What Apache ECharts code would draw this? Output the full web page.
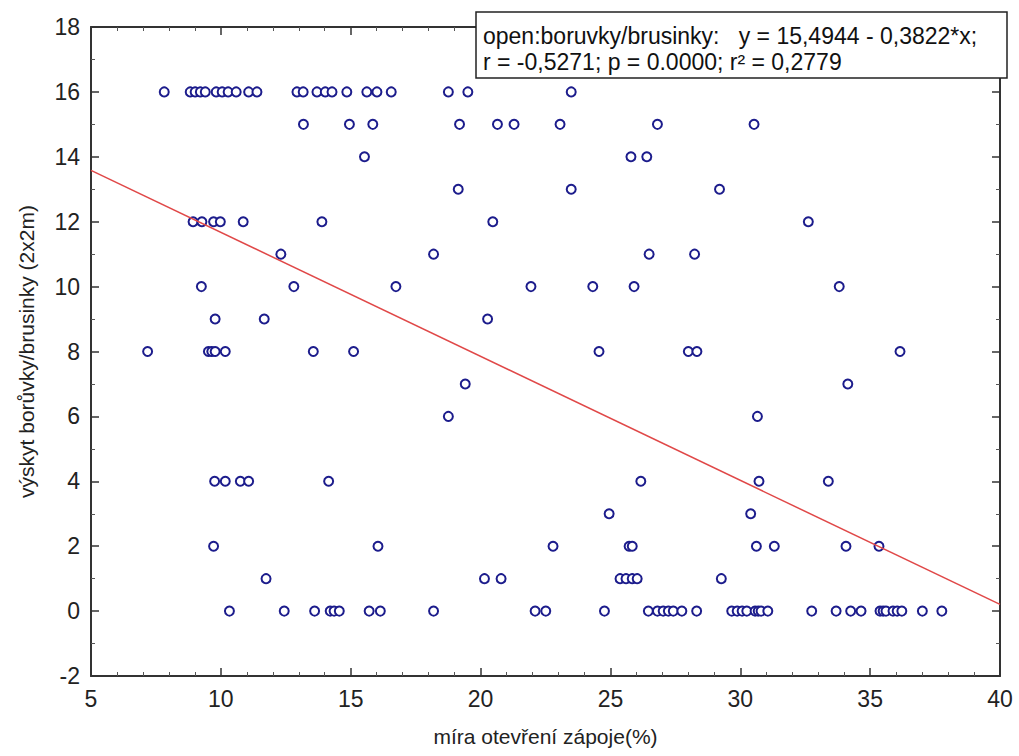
<!DOCTYPE html>
<html>
<head>
<meta charset="utf-8">
<script src="https://cdn.jsdelivr.net/npm/echarts@6/dist/echarts.min.js"></script>
<style>
  html, body { margin: 0; padding: 0; background: #fff; }
  #chart { width: 1019px; height: 756px; }
</style>
</head>
<body>
<div id="chart"></div>
<script>
// observed points [openness %, occurrence]
var points = [
  [7.82,16],[8.82,16],[9.01,16],[9.21,16],[9.40,16],[9.82,16],[10.05,16],[10.28,16],[10.59,16],
  [11.07,16],[11.39,16],[12.93,16],[13.17,16],[13.70,16],[14.02,16],[14.28,16],[14.85,16],
  [15.62,16],[16.01,16],[16.56,16],[18.76,16],[19.51,16],[23.49,16],
  [13.18,15],[14.95,15],[15.85,15],[19.19,15],[20.65,15],[21.29,15],[23.06,15],[26.81,15],[30.53,15],
  [15.53,14],[25.79,14],[26.40,14],
  [19.14,13],[23.49,13],[29.20,13],
  [8.93,12],[9.27,12],[9.72,12],[9.98,12],[10.86,12],[13.89,12],[20.47,12],[32.62,12],
  [12.31,11],[18.19,11],[26.49,11],[28.24,11],
  [9.25,10],[12.81,10],[16.74,10],[21.94,10],[24.32,10],[25.91,10],[33.81,10],
  [9.78,9],[11.67,9],[20.27,9],
  [7.18,8],[9.52,8],[9.65,8],[9.78,8],[10.17,8],[13.56,8],[15.11,8],[24.56,8],[28.0,8],[28.33,8],[36.15,8],
  [19.41,7],[34.14,7],
  [18.76,6],[30.66,6],
  [9.76,4],[10.17,4],[10.75,4],[11.07,4],[14.15,4],[26.17,4],[30.72,4],[33.39,4],
  [24.95,3],[30.40,3],
  [9.72,2],[16.05,2],[22.79,2],[25.72,2],[25.84,2],[30.62,2],[31.31,2],[34.07,2],[35.34,2],
  [11.74,1],[20.15,1],[20.79,1],[25.37,1],[25.60,1],[25.84,1],[26.03,1],[29.27,1],
  [10.33,0],[12.44,0],[13.61,0],[14.21,0],[14.36,0],[14.56,0],[15.71,0],[16.14,0],[18.19,0],
  [22.10,0],[22.51,0],[24.77,0],[26.46,0],[26.81,0],[27.03,0],[27.23,0],[27.42,0],[27.75,0],
  [28.32,0],[29.67,0],[29.88,0],[30.07,0],[30.25,0],[30.57,0],[30.69,0],[30.80,0],[31.06,0],
  [32.75,0],[33.69,0],[34.25,0],[34.65,0],[35.38,0],[35.50,0],[35.61,0],[35.88,0],[36.04,0],
  [36.22,0],[37.01,0],[37.76,0]
];

// regression y = a + b*x
var fitIntercept = 15.4944;
var fitSlope = -0.3822;
var xRange = [5, 40];
var yRange = [-2, 18];

var legendLine1 = 'open:boruvky/brusinky:   y = 15,4944 - 0,3822*x;';
var legendLine2 = 'r = -0,5271; p = 0.0000; r\u00b2 = 0,2779';

var fitLine = xRange.map(function (x) { return [x, fitIntercept + fitSlope * x]; });

var font = 'Liberation Sans, Arial, sans-serif';
var axisColor = '#333';

function axisBase(extra) {
  var a = {
    type: 'value',
    axisLine: { show: true, onZero: false, lineStyle: { color: axisColor, width: 2 } },
    axisTick: { show: true, inside: true, length: 8, lineStyle: { color: axisColor, width: 1.5 } },
    minorTick: { show: true, length: 4, lineStyle: { color: '#555', width: 1 } },
    splitLine: { show: false },
    axisLabel: { color: '#222', fontSize: 23, fontFamily: font, margin: 11 }
  };
  for (var k in extra) a[k] = extra[k];
  return a;
}

var chart = echarts.init(document.getElementById('chart'), null, { renderer: 'svg' });
chart.setOption({
  animation: false,
  backgroundColor: '#fff',
  grid: { left: 91, right: 19, top: 27, bottom: 80 },
  xAxis: [
    axisBase({
      min: xRange[0], max: xRange[1], interval: 5,
      minorTick: { show: true, splitNumber: 5, length: 4, lineStyle: { color: '#555', width: 1 } },
      name: 'míra otevření zápoje(%)', nameLocation: 'middle', nameGap: 50,
      nameTextStyle: { color: '#222', fontSize: 21, fontFamily: font }
    }),
    axisBase({
      position: 'top', min: xRange[0], max: xRange[1], interval: 5,
      minorTick: { show: true, splitNumber: 5, length: 4, lineStyle: { color: '#555', width: 1 } },
      axisLabel: { show: false }
    })
  ],
  yAxis: [
    axisBase({
      min: yRange[0], max: yRange[1], interval: 2,
      minorTick: { show: true, splitNumber: 2, length: 4, lineStyle: { color: '#555', width: 1 } },
      name: 'výskyt borůvky/brusinky (2x2m)', nameLocation: 'middle', nameGap: 54,
      nameTextStyle: { color: '#222', fontSize: 21, fontFamily: font }
    }),
    axisBase({
      position: 'right', min: yRange[0], max: yRange[1], interval: 2,
      minorTick: { show: true, splitNumber: 2, length: 4, lineStyle: { color: '#555', width: 1 } },
      axisLabel: { show: false }
    })
  ],
  series: [
    {
      type: 'scatter',
      data: points,
      symbol: 'circle',
      symbolSize: 9,
      itemStyle: { color: '#fff', borderColor: '#1c1c8c', borderWidth: 2, opacity: 1 },
      z: 2
    },
    {
      type: 'line',
      data: fitLine,
      symbol: 'none',
      lineStyle: { color: '#e04848', width: 1.5 },
      z: 3
    }
  ],
  graphic: [
    {
      type: 'rect',
      shape: { x: 476, y: 12, width: 531, height: 66 },
      style: { fill: '#fff', stroke: '#222', lineWidth: 1.5 },
      z: 100
    },
    {
      type: 'text', x: 483, y: 36,
      style: { text: legendLine1, fontSize: 23, fontFamily: font, fill: '#111', verticalAlign: 'middle' },
      z: 101
    },
    {
      type: 'text', x: 483, y: 62,
      style: { text: legendLine2, fontSize: 23, fontFamily: font, fill: '#111', verticalAlign: 'middle' },
      z: 101
    }
  ]
});
</script>
</body>
</html>
